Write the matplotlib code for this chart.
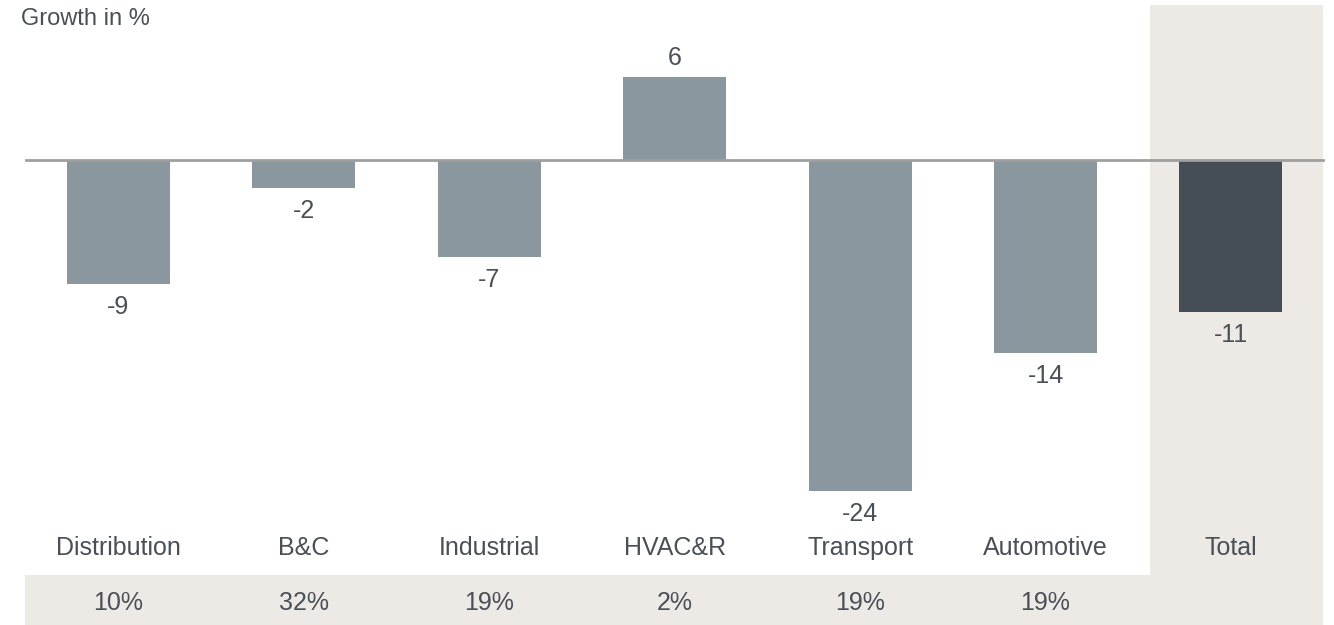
import numpy as np
import matplotlib.pyplot as plt
from matplotlib.patches import Rectangle

plt.rcParams['font.family'] = ['Liberation Sans', 'DejaVu Sans']

categories = ["Distribution", "B&C", "Industrial", "HVAC&R", "Transport", "Automotive", "Total"]
growth = [-9, -2, -7, 6, -24, -14, -11]
shares = ["10%", "32%", "19%", "2%", "19%", "19%", ""]

bar_col = "#8a979f"
total_col = "#454d55"
panel_col = "#ede9e4"
text_col = "#4a5058"

fig = plt.figure(figsize=[13.34, 6.25], dpi=100)
ax = fig.add_axes([0, 0, 1, 1])
ax.set_xlim(-0.639, 6.556)
ax.set_ylim(-33.7, 11.59)
ax.axis("off")

x = np.arange(len(categories))

# shaded total column and share band
ax.add_patch(Rectangle((5.564, -33.7), 6.497 - 5.564, 11.23 + 33.7, color=panel_col, zorder=0, lw=0))
ax.add_patch(Rectangle((-0.504, -33.7), 6.497 + 0.504, 33.7 - 30.1, color=panel_col, zorder=0, lw=0))

colors = [bar_col] * (len(categories) - 1) + [total_col]
ax.bar(x, growth, width=0.556, color=colors, zorder=2)
ax.plot([-0.499, 6.497], [0, 0], color="#a0a0a0", lw=2, zorder=3)

for i, v in enumerate(growth):
    if v < 0:
        ax.annotate(str(v), (x[i], v), xytext=(0, -8), textcoords="offset points",
                    ha="center", va="top", fontsize=18, color=text_col)
    else:
        ax.annotate(str(v), (x[i], v), xytext=(0, 5), textcoords="offset points",
                    ha="center", va="bottom", fontsize=18, color=text_col)

for i, c in enumerate(categories):
    ax.text(x[i], -28.1, c, ha="center", va="center", fontsize=18, color=text_col)
    ax.text(x[i], -32.1, shares[i], ha="center", va="center", fontsize=18, color=text_col)

fig.text(21 / 1334, 1 - 19 / 625, "Growth in %", ha="left", va="center", fontsize=17, color=text_col)

plt.savefig("out.png", dpi=100)
